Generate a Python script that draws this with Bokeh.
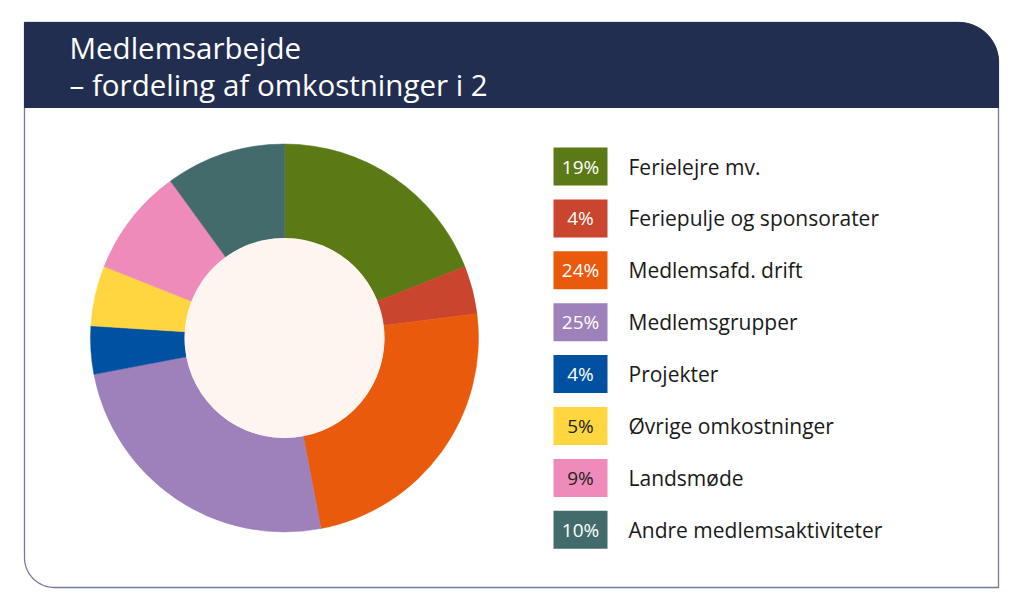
import numpy as np
from bokeh.plotting import figure
from bokeh.models import Range1d, ColumnDataSource
from bokeh.core.properties import value
from bokeh.embed import file_html
from bokeh.resources import INLINE

# ---- data ----
categories = ["Ferielejre mv.", "Feriepulje og sponsorater", "Medlemsafd. drift",
              "Medlemsgrupper", "Projekter", "Øvrige omkostninger", "Landsmøde",
              "Andre medlemsaktiviteter"]
shares = [19, 4, 24, 25, 4, 5, 9, 10]
colors = ["#5B7A15", "#C9452D", "#EA5A0C", "#9E80BA", "#0051A1", "#FFD640", "#EE8BBB", "#436B6C"]
pct_text_colors = ["white", "white", "white", "white", "white", "#222222", "#222222", "white"]
title_lines = ["Medlemsarbejde", "– fordeling af omkostninger i 2"]

W, H = 1008, 600
FONT = value("Open Sans")

p = figure(width=W, height=H, x_range=Range1d(0, W), y_range=Range1d(0, H),
           output_backend="svg", toolbar_location=None, min_border=0,
           x_axis_location=None, y_axis_location=None)
p.grid.visible = False
p.outline_line_color = None
p.background_fill_color = "white"
p.border_fill_color = "white"


def rounded_box(left, right, bottom, top, r_tl=0, r_tr=0, r_br=0, r_bl=0, n=24):
    xs, ys = [], []
    if r_tl > 0:
        a = np.linspace(np.pi, np.pi / 2, n)
        xs += list(left + r_tl + r_tl * np.cos(a)); ys += list(top - r_tl + r_tl * np.sin(a))
    else:
        xs.append(left); ys.append(top)
    if r_tr > 0:
        a = np.linspace(np.pi / 2, 0, n)
        xs += list(right - r_tr + r_tr * np.cos(a)); ys += list(top - r_tr + r_tr * np.sin(a))
    else:
        xs.append(right); ys.append(top)
    if r_br > 0:
        a = np.linspace(0, -np.pi / 2, n)
        xs += list(right - r_br + r_br * np.cos(a)); ys += list(bottom + r_br + r_br * np.sin(a))
    else:
        xs.append(right); ys.append(bottom)
    if r_bl > 0:
        a = np.linspace(-np.pi / 2, -np.pi, n)
        xs += list(left + r_bl + r_bl * np.cos(a)); ys += list(bottom + r_bl + r_bl * np.sin(a))
    else:
        xs.append(left); ys.append(bottom)
    return xs, ys

# card
card_l, card_r, card_b, card_t = 24, 998, 13, 578
hx, hy = rounded_box(card_l, card_r, card_b, card_t, r_tr=40, r_bl=30)
p.patch(hx, hy, fill_color="white", line_color="#767B99", line_width=1.3)
# header band
hx2, hy2 = rounded_box(card_l, card_r, 493, card_t, r_tr=40)
p.patch(hx2, hy2, fill_color="#222E50", line_color="#222E50", line_width=1)

# title
p.text(x=[69, 69], y=[553, 516], text=title_lines, text_font=FONT,
       text_font_size="29.5px", text_color="white", text_baseline="alphabetic")

# donut
cx, cy = 284, 262.5
frac = np.array(shares, dtype=float) / sum(shares)
cum = np.concatenate([[0], np.cumsum(frac)])
start = np.pi / 2 - cum[:-1] * 2 * np.pi
end = np.pi / 2 - cum[1:] * 2 * np.pi
src = ColumnDataSource(dict(start=start, end=end, color=colors))
p.annular_wedge(x=cx, y=cy, inner_radius=100, outer_radius=194,
                start_angle="start", end_angle="end", direction="clock",
                fill_color="color", line_color="color", line_width=0.5, source=src)
p.circle(x=[cx], y=[cy], radius=100, fill_color="#FFF5F0", line_color=None)

# legend
n = len(categories)
row_y = 434 - np.arange(n) * 51.9
box_x = 580
lsrc = ColumnDataSource(dict(
    y=row_y, color=colors, cat=categories,
    pct=[f"{v}%" for v in shares], tcol=pct_text_colors,
))
p.rect(x=box_x, y="y", width=54, height=38, fill_color="color", line_color=None, source=lsrc)
p.text(x=box_x, y="y", text="pct", text_color="tcol", text_font=FONT,
       text_font_size="19px", text_align="center", text_baseline="middle", source=lsrc)
p.text(x=628, y="y", text="cat", text_color="#1A1A1A", text_font=FONT,
       text_font_size="21px", text_align="left", text_baseline="middle", source=lsrc)

open("out.html", "w").write(file_html(p, INLINE))
